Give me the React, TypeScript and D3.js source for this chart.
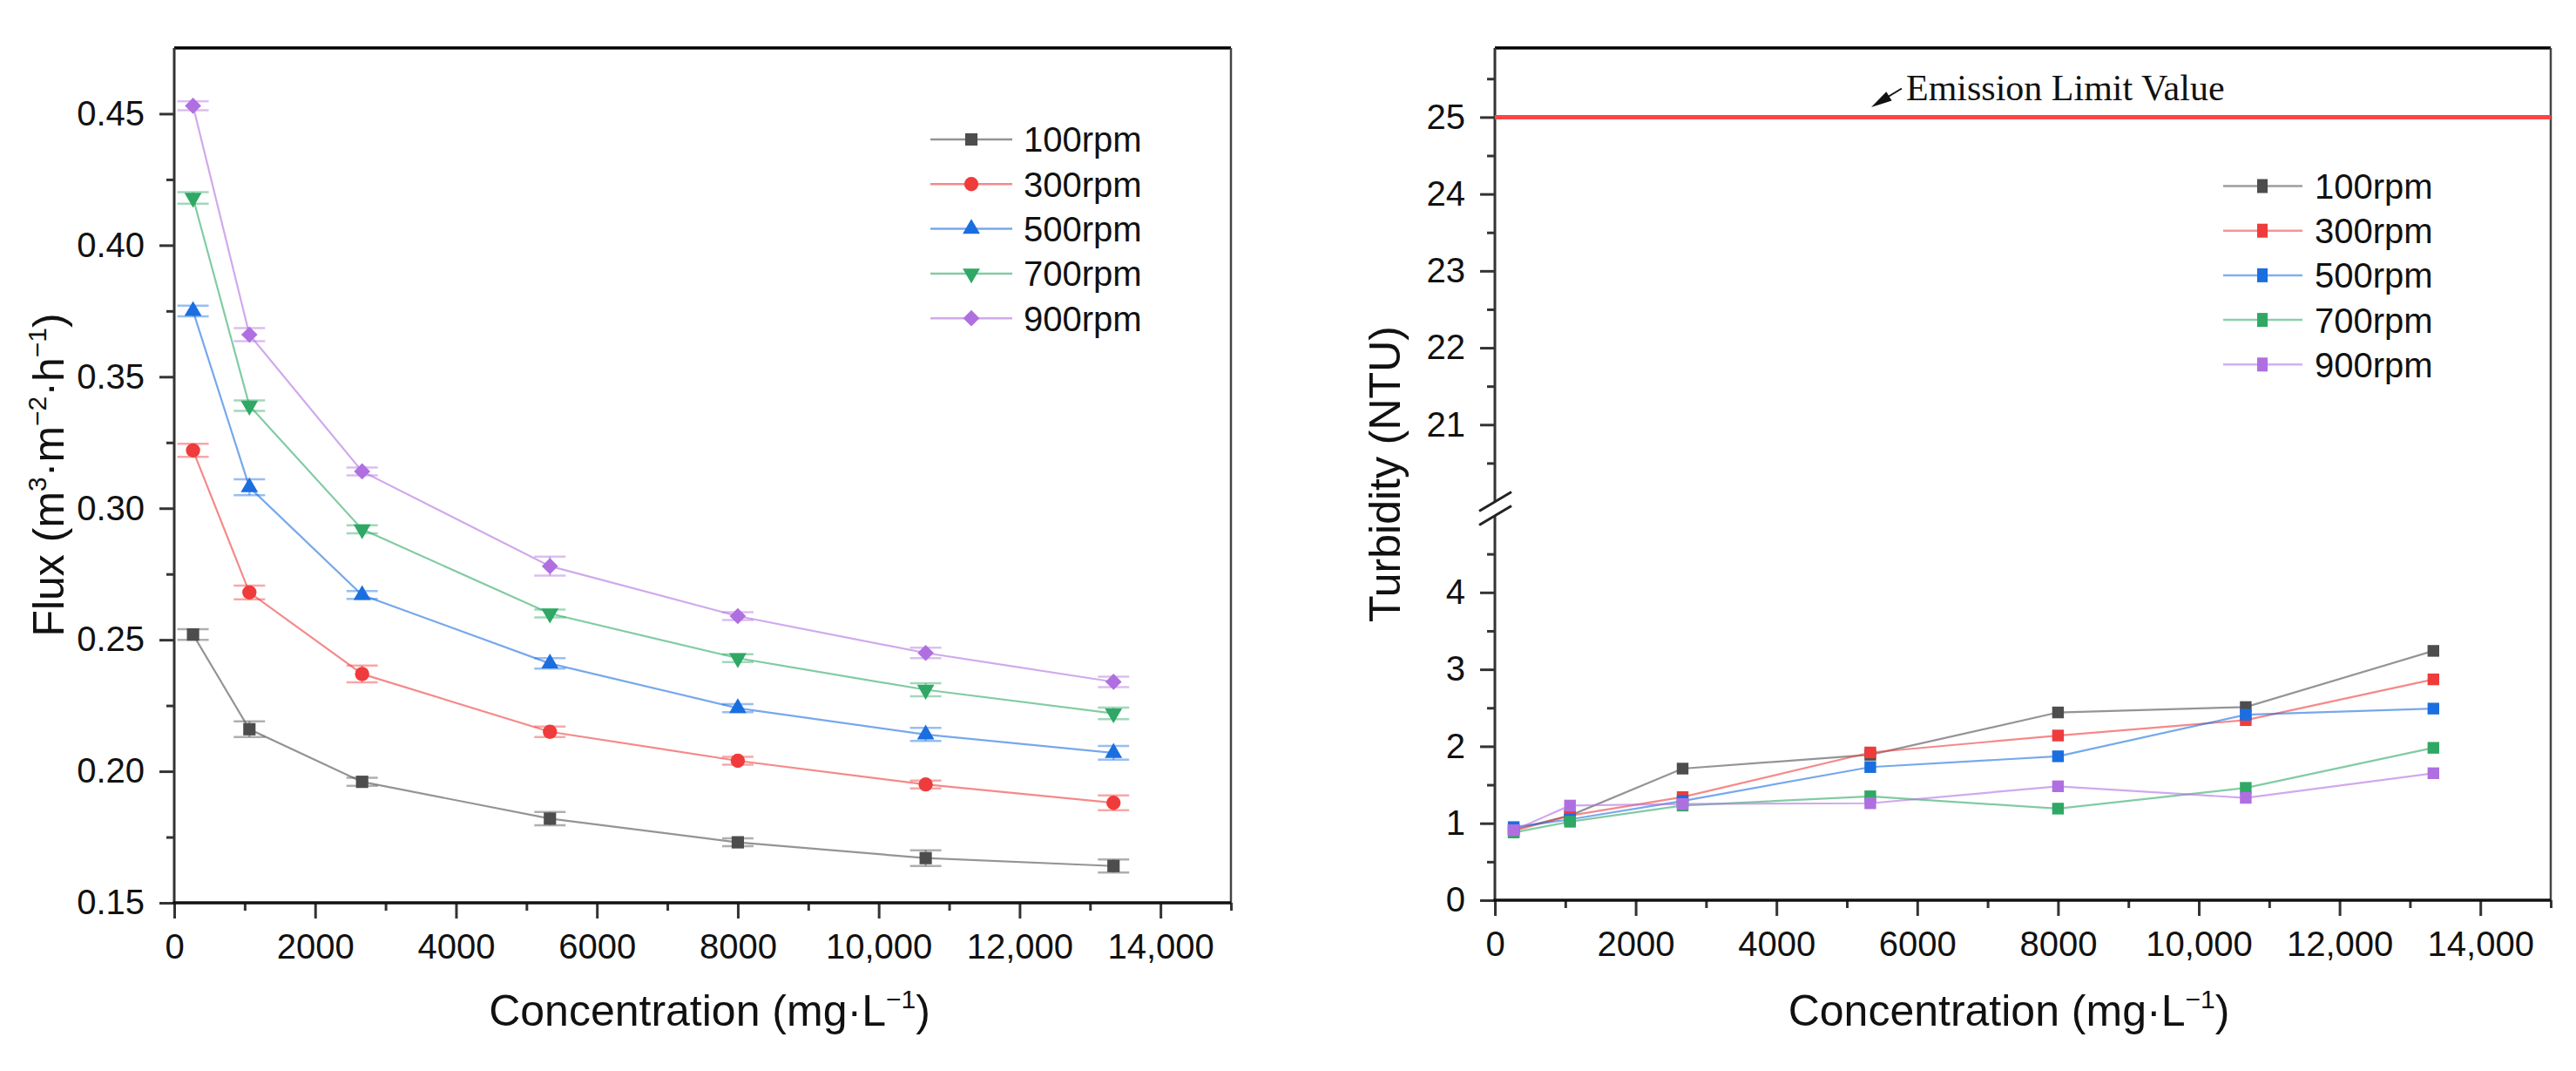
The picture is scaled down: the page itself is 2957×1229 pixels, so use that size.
import { useEffect, useRef } from 'react';
import * as d3 from 'd3';

const concentration = [267, 1067, 2667, 5333, 8000, 10667, 13333];
const seriesNames = ['100rpm', '300rpm', '500rpm', '700rpm', '900rpm'];
const seriesColors = ['#4d4d4d', '#ef3b3b', '#1a6ee0', '#2fa865', '#b06fe0'];

// Flux (m3 m-2 h-1)
const flux100 = [0.252, 0.216, 0.196, 0.182, 0.173, 0.167, 0.164];
const flux300 = [0.322, 0.268, 0.237, 0.215, 0.204, 0.195, 0.188];
const flux500 = [0.375, 0.308, 0.267, 0.241, 0.224, 0.214, 0.207];
const flux700 = [0.418, 0.339, 0.292, 0.260, 0.243, 0.231, 0.222];
const flux900 = [0.453, 0.366, 0.314, 0.278, 0.259, 0.245, 0.234];

const fluxErr100 = [0.002, 0.003, 0.0015, 0.0025, 0.0015, 0.003, 0.0025];
const fluxErr300 = [0.0025, 0.0026, 0.0032, 0.002, 0.0015, 0.0015, 0.0028];
const fluxErr500 = [0.002, 0.003, 0.0015, 0.002, 0.0015, 0.0025, 0.0026];
const fluxErr700 = [0.0022, 0.002, 0.0015, 0.0015, 0.0015, 0.0025, 0.0022];
const fluxErr900 = [0.0017, 0.0025, 0.0015, 0.0036, 0.0015, 0.002, 0.002];

// Turbidity (NTU)
const turb100 = [0.92, 1.1, 1.71, 1.89, 2.44, 2.51, 3.24];
const turb300 = [0.9, 1.1, 1.34, 1.92, 2.14, 2.34, 2.87];
const turb500 = [0.95, 1.05, 1.29, 1.73, 1.87, 2.41, 2.49];
const turb700 = [0.88, 1.02, 1.23, 1.35, 1.19, 1.46, 1.98];
const turb900 = [0.91, 1.23, 1.25, 1.26, 1.48, 1.33, 1.65];

const emissionLimit = 25;

const xMajorTicks = [0, 2000, 4000, 6000, 8000, 10000, 12000, 14000];
const xMinorTicks = [1000, 3000, 5000, 7000, 9000, 11000, 13000, 15000];
const fluxMajorTicks = [0.15, 0.2, 0.25, 0.3, 0.35, 0.4, 0.45];
const fluxMinorTicks = [0.175, 0.225, 0.275, 0.325, 0.375, 0.425];
const turbLowMajor = [0, 1, 2, 3, 4];
const turbLowMinor = [0.5, 1.5, 2.5, 3.5, 4.5];
const turbHighMajor = [21, 22, 23, 24, 25];
const turbHighMinor = [20.5, 21.5, 22.5, 23.5, 24.5, 25.5];

const FONT = '"Liberation Sans", Arial, Helvetica, sans-serif';
const SERIF = '"Liberation Serif", "Times New Roman", serif';

const formatX = (v: number) => (v >= 10000 ? d3.format(',')(v) : String(v));

export default function App() {
  const svgRef = useRef<SVGSVGElement>(null);

  useEffect(() => {
    document.body.style.margin = '0';
    if (!svgRef.current) return;
    const svg = d3.select(svgRef.current);
    svg.selectAll('*').remove();

    const fluxSeries = [flux100, flux300, flux500, flux700, flux900];
    const fluxErrors = [fluxErr100, fluxErr300, fluxErr500, fluxErr700, fluxErr900];
    const turbSeries = [turb100, turb300, turb500, turb700, turb900];

    const symbolPath = (i: number) => {
      const defs = [
        { type: d3.symbolSquare, size: 200, rot: 0 },
        { type: d3.symbolCircle, size: 210, rot: 0 },
        { type: d3.symbolTriangle, size: 170, rot: 0 },
        { type: d3.symbolTriangle, size: 170, rot: 180 },
        { type: d3.symbolSquare, size: 175, rot: 45 }
      ];
      const d = defs[i];
      return { path: d3.symbol().type(d.type).size(d.size)() as string, rot: d.rot };
    };

    const styleAxis = (g: any) => {
      g.select('.domain').remove();
      g.selectAll('line').attr('stroke', '#333').attr('stroke-width', 3);
      g.selectAll('text')
        .attr('fill', '#111')
        .style('font-size', '40px')
        .style('font-family', FONT);
    };

    const addTitle = (
      x: number, y: number, parts: { t: string; sup?: boolean }[], rotate = false
    ) => {
      const text = svg.append('text')
        .attr('x', x)
        .attr('y', y)
        .attr('text-anchor', 'middle')
        .attr('fill', '#111')
        .style('font-family', FONT)
        .style('font-size', '50px');
      if (rotate) text.attr('transform', `rotate(-90, ${x}, ${y})`);
      let raised = false;
      parts.forEach(p => {
        const span = text.append('tspan').text(p.t);
        if (p.sup) {
          span.style('font-size', '30px').attr('dy', raised ? 0 : -20);
          raised = true;
        } else {
          if (raised) span.attr('dy', 20);
          raised = false;
        }
      });
    };

    // ---------------- Left panel: Flux ----------------
    const L = { left: 200, right: 1413, top: 55, bottom: 1036 };
    const xL = d3.scaleLinear().domain([0, 15000]).range([L.left, L.right]);
    const yFlux = d3.scaleLinear().domain([0.15, 0.475]).range([L.bottom, L.top]);

    const left = svg.append('g');

    left.append('g')
      .attr('transform', `translate(0,${L.bottom})`)
      .call(d3.axisBottom(xL).tickValues(xMajorTicks).tickSize(18).tickPadding(18).tickFormat((v: any) => formatX(v)))
      .call(styleAxis);
    left.append('g')
      .attr('transform', `translate(0,${L.bottom})`)
      .call(d3.axisBottom(xL).tickValues(xMinorTicks).tickSize(9).tickFormat(() => ''))
      .call(styleAxis);
    left.append('g')
      .attr('transform', `translate(${L.left},0)`)
      .call(d3.axisLeft(yFlux).tickValues(fluxMajorTicks).tickSize(17).tickPadding(17).tickFormat((v: any) => d3.format('.2f')(v)))
      .call(styleAxis);
    left.append('g')
      .attr('transform', `translate(${L.left},0)`)
      .call(d3.axisLeft(yFlux).tickValues(fluxMinorTicks).tickSize(9).tickFormat(() => ''))
      .call(styleAxis);

    // frame
    left.append('line').attr('x1', L.left).attr('x2', L.right).attr('y1', L.top).attr('y2', L.top)
      .attr('stroke', '#000').attr('stroke-width', 3.5);
    left.append('line').attr('x1', L.right).attr('x2', L.right).attr('y1', L.top).attr('y2', L.bottom)
      .attr('stroke', '#444').attr('stroke-width', 2.5);
    left.append('line').attr('x1', L.left).attr('x2', L.left).attr('y1', L.top).attr('y2', L.bottom + 1.5)
      .attr('stroke', '#333').attr('stroke-width', 3);
    left.append('line').attr('x1', L.left - 1.5).attr('x2', L.right).attr('y1', L.bottom).attr('y2', L.bottom)
      .attr('stroke', '#111').attr('stroke-width', 3.5);

    const fluxLine = d3.line<number>()
      .x((_, i) => xL(concentration[i]))
      .y(d => yFlux(d));

    fluxSeries.forEach((vals, s) => {
      const color = seriesColors[s];
      const g = left.append('g');
      g.append('path')
        .datum(vals)
        .attr('fill', 'none')
        .attr('stroke', color)
        .attr('stroke-opacity', 0.6)
        .attr('stroke-width', 2.2)
        .attr('d', fluxLine);

      vals.forEach((v, i) => {
        const cx = xL(concentration[i]);
        const e = fluxErrors[s][i];
        const y1 = yFlux(v + e);
        const y2 = yFlux(v - e);
        const eb = g.append('g').attr('stroke', color).attr('stroke-opacity', 0.45).attr('stroke-width', 2.5);
        eb.append('line').attr('x1', cx).attr('x2', cx).attr('y1', y1).attr('y2', y2);
        eb.append('line').attr('x1', cx - 18).attr('x2', cx + 18).attr('y1', y1).attr('y2', y1);
        eb.append('line').attr('x1', cx - 18).attr('x2', cx + 18).attr('y1', y2).attr('y2', y2);
        const sym = symbolPath(s);
        g.append('path')
          .attr('d', sym.path)
          .attr('fill', color)
          .attr('transform', `translate(${cx},${yFlux(v)}) rotate(${sym.rot})`);
      });
    });

    // legend (left)
    seriesNames.forEach((name, i) => {
      const y = 160 + i * 51.3;
      const lg = left.append('g');
      lg.append('line').attr('x1', 1068).attr('x2', 1162).attr('y1', y).attr('y2', y)
        .attr('stroke', seriesColors[i]).attr('stroke-opacity', 0.6).attr('stroke-width', 2.5);
      const sym = symbolPath(i);
      lg.append('path').attr('d', sym.path).attr('fill', seriesColors[i])
        .attr('transform', `translate(1115,${y}) rotate(${sym.rot})`);
      lg.append('text').attr('x', 1175).attr('y', y).attr('dy', '0.36em')
        .attr('fill', '#111').style('font-family', FONT).style('font-size', '40px').text(name);
    });

    addTitle(L.left + (L.right - L.left) / 2 + 8, 1177, [
      { t: 'Concentration (mg·L' }, { t: '−1', sup: true }, { t: ')' }
    ]);
    addTitle(73, 545, [
      { t: 'Flux (m' }, { t: '3', sup: true }, { t: '·m' }, { t: '−2', sup: true },
      { t: '·h' }, { t: '−1', sup: true }, { t: ')' }
    ], true);

    // ---------------- Right panel: Turbidity ----------------
    const R = { left: 1716, right: 2928, top: 55, bottom: 1033 };
    const xR = d3.scaleLinear().domain([0, 15000]).range([R.left, R.right]);
    const yLow = d3.scaleLinear().domain([0, 5]).range([R.bottom, 591.5]);
    const yHigh = d3.scaleLinear().domain([20, 25.9]).range([575.5, R.top]);
    const fmtInt = (v: any) => d3.format('d')(v);

    const right = svg.append('g');

    right.append('g')
      .attr('transform', `translate(0,${R.bottom})`)
      .call(d3.axisBottom(xR).tickValues(xMajorTicks).tickSize(18).tickPadding(18).tickFormat((v: any) => formatX(v)))
      .call(styleAxis);
    right.append('g')
      .attr('transform', `translate(0,${R.bottom})`)
      .call(d3.axisBottom(xR).tickValues(xMinorTicks).tickSize(9).tickFormat(() => ''))
      .call(styleAxis);
    right.append('g')
      .attr('transform', `translate(${R.left},0)`)
      .call(d3.axisLeft(yLow).tickValues(turbLowMajor).tickSize(17).tickPadding(17).tickFormat(fmtInt))
      .call(styleAxis);
    right.append('g')
      .attr('transform', `translate(${R.left},0)`)
      .call(d3.axisLeft(yLow).tickValues(turbLowMinor).tickSize(9).tickFormat(() => ''))
      .call(styleAxis);
    right.append('g')
      .attr('transform', `translate(${R.left},0)`)
      .call(d3.axisLeft(yHigh).tickValues(turbHighMajor).tickSize(17).tickPadding(17).tickFormat(fmtInt))
      .call(styleAxis);
    right.append('g')
      .attr('transform', `translate(${R.left},0)`)
      .call(d3.axisLeft(yHigh).tickValues(turbHighMinor).tickSize(9).tickFormat(() => ''))
      .call(styleAxis);

    // frame + broken y axis
    right.append('line').attr('x1', R.left).attr('x2', R.right).attr('y1', R.top).attr('y2', R.top)
      .attr('stroke', '#000').attr('stroke-width', 3.5);
    right.append('line').attr('x1', R.right).attr('x2', R.right).attr('y1', R.top).attr('y2', R.bottom)
      .attr('stroke', '#444').attr('stroke-width', 2.5);
    right.append('line').attr('x1', R.left).attr('x2', R.left).attr('y1', R.top).attr('y2', yHigh(20))
      .attr('stroke', '#333').attr('stroke-width', 3);
    right.append('line').attr('x1', R.left).attr('x2', R.left).attr('y1', yLow(5)).attr('y2', R.bottom + 1.5)
      .attr('stroke', '#333').attr('stroke-width', 3);
    right.append('line').attr('x1', R.left - 1.5).attr('x2', R.right).attr('y1', R.bottom).attr('y2', R.bottom)
      .attr('stroke', '#111').attr('stroke-width', 3.5);
    [yHigh(20), yLow(5)].forEach(yb => {
      right.append('line')
        .attr('x1', R.left - 18).attr('x2', R.left + 19)
        .attr('y1', yb + 11).attr('y2', yb - 11)
        .attr('stroke', '#222').attr('stroke-width', 3);
    });

    // emission limit
    const yLimit = yHigh(emissionLimit);
    right.append('line').attr('x1', R.left).attr('x2', R.right).attr('y1', yLimit).attr('y2', yLimit)
      .attr('stroke', '#ff4545').attr('stroke-width', 5);
    right.append('text').attr('x', 2188).attr('y', 115)
      .attr('fill', '#111').style('font-family', SERIF).style('font-size', '42px')
      .text('Emission Limit Value');
    right.append('line').attr('x1', 2183).attr('y1', 101.5).attr('x2', 2160).attr('y2', 115.5)
      .attr('stroke', '#111').attr('stroke-width', 2);
    right.append('path')
      .attr('d', 'M0,0 L24,-6 L24,6 Z')
      .attr('fill', '#111')
      .attr('transform', `translate(2148,123) rotate(${(Math.atan2(-21.5, 35) * 180) / Math.PI})`);

    const turbLine = d3.line<number>()
      .x((_, i) => xR(concentration[i]))
      .y(d => yLow(d));

    const sq = d3.symbol().type(d3.symbolSquare).size(180)() as string;
    turbSeries.forEach((vals, s) => {
      const color = seriesColors[s];
      const g = right.append('g');
      g.append('path')
        .datum(vals)
        .attr('fill', 'none')
        .attr('stroke', color)
        .attr('stroke-opacity', 0.6)
        .attr('stroke-width', 2.2)
        .attr('d', turbLine);
      vals.forEach((v, i) => {
        g.append('path')
          .attr('d', sq)
          .attr('fill', color)
          .attr('transform', `translate(${xR(concentration[i])},${yLow(v)})`);
      });
    });

    // legend (right)
    seriesNames.forEach((name, i) => {
      const y = 213.5 + i * 51.2;
      const lg = right.append('g');
      lg.append('line').attr('x1', 2552).attr('x2', 2643).attr('y1', y).attr('y2', y)
        .attr('stroke', seriesColors[i]).attr('stroke-opacity', 0.55).attr('stroke-width', 2.5);
      lg.append('rect').attr('x', 2591).attr('y', y - 8).attr('width', 12).attr('height', 16)
        .attr('fill', seriesColors[i]);
      lg.append('text').attr('x', 2657).attr('y', y).attr('dy', '0.36em')
        .attr('fill', '#111').style('font-family', FONT).style('font-size', '40px').text(name);
    });

    addTitle(2306, 1177, [
      { t: 'Concentration (mg·L' }, { t: '−1', sup: true }, { t: ')' }
    ]);
    addTitle(1607, 544, [{ t: 'Turbidity (NTU)' }], true);
  }, []);

  return (
    <svg
      ref={svgRef}
      width={2957}
      height={1229}
      style={{ display: 'block', background: '#ffffff' }}
    />
  );
}
